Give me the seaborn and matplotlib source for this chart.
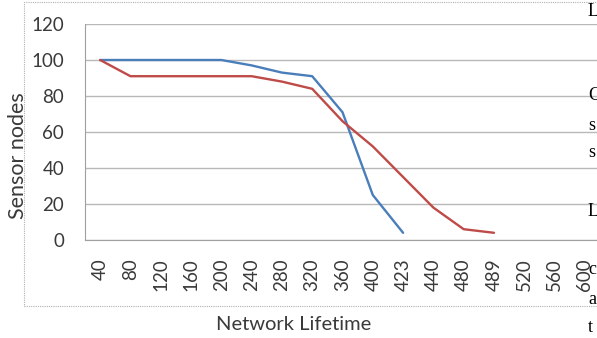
import pandas as pd
import matplotlib.pyplot as plt
import seaborn as sns
from matplotlib.patches import Rectangle
from matplotlib.ticker import FixedLocator

# Categories on the x axis (network lifetime)
lifetime = ['40', '80', '120', '160', '200', '240', '280', '320', '360', '400',
            '423', '440', '480', '489', '520', '560', '600']

# Sensor nodes alive
blue_nodes = [100, 100, 100, 100, 100, 97, 93, 91, 71, 25, 4]
red_nodes = [100, 91, 91, 91, 91, 91, 88, 84, 66, 52, 35, 18, 6, 4]

blue_color = '#4a7ebb'
red_color = '#be4b48'

# Fragments of page text at the right edge of the scan
side_text = [('L', 12), ('G', 95), ('s', 125), ('s', 152), ('L', 211),
             ('c', 269), ('a', 299), ('t', 328)]

rows = []
for i, v in enumerate(blue_nodes):
    rows.append({'pos': i, 'nodes': v, 'series': 'blue'})
for i, v in enumerate(red_nodes):
    rows.append({'pos': i, 'nodes': v, 'series': 'red'})
df = pd.DataFrame(rows)

sns.set_style('white')
plt.rcParams['font.family'] = ['Lato', 'DejaVu Sans']

W, H = 597, 338
fig = plt.figure(figsize=(W / 100, H / 100), dpi=100)

# dotted chart frame
fig.patches.append(Rectangle((24 / W, 1 - 306 / H), 600 / W, (306 - 2) / H,
                             transform=fig.transFigure, fill=False,
                             edgecolor='#b0b0b0', lw=0.8, ls=(0, (1, 1))))

ax = fig.add_axes([85 / W, 1 - 240 / H, (600 - 85) / W, (240 - 24) / H])
sns.lineplot(data=df, x='pos', y='nodes', hue='series',
             palette={'blue': blue_color, 'red': red_color},
             linewidth=1.7, legend=False, ax=ax)

ax.set_xlim(-0.5, len(lifetime) - 0.5)
ax.set_ylim(0, 120)
ax.set_yticks(range(0, 121, 20))
ax.set_xticks(range(len(lifetime)))
ax.set_xticklabels(lifetime, rotation=90, fontsize=13.5, color='#3a3a3a')
ax.tick_params(axis='x', which='major', length=0, pad=13)
ax.xaxis.set_minor_locator(FixedLocator([i - 0.5 for i in range(len(lifetime) + 1)]))
ax.tick_params(axis='x', which='minor', length=5, width=1, color='#a0a0a0', direction='out')
ax.tick_params(axis='y', length=5, width=1, color='#a0a0a0', direction='out',
               labelsize=13.5, labelcolor='#3a3a3a', pad=10)

ax.grid(axis='y', color='#b8b8b8', lw=1)
ax.set_axisbelow(True)
for s in ['top', 'right']:
    ax.spines[s].set_visible(False)
ax.spines['left'].set_color('#a0a0a0')
ax.spines['bottom'].set_color('#a0a0a0')
ax.set_xlabel('')
ax.set_ylabel('')

fig.text(18 / W, 1 - 156 / H, 'Sensor nodes', rotation=90, ha='center', va='center',
         fontsize=15.5, color='#3a3a3a')
fig.text(294 / W, 1 - 325 / H, 'Network Lifetime', ha='center', va='center',
         fontsize=14.5, color='#3a3a3a')

for ch, y in side_text:
    fig.text(588 / W, 1 - y / H, ch, ha='left', va='center', fontsize=13,
             family='Liberation Serif', color='black')

fig.savefig('out.png', dpi=100)
